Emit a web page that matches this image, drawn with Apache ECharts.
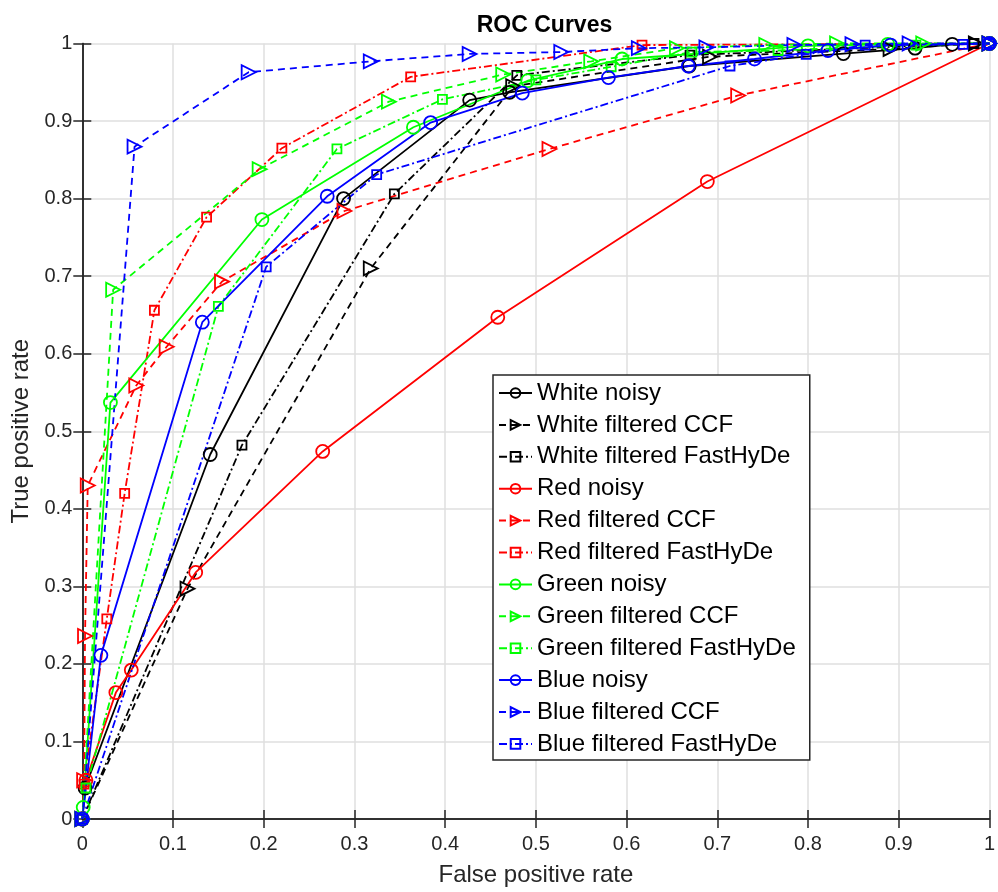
<!DOCTYPE html>
<html>
<head>
<meta charset="utf-8">
<script src="https://cdn.jsdelivr.net/npm/echarts@6/dist/echarts.min.js"></script>
<style>
html,body{margin:0;padding:0;background:#fff;overflow:hidden;}
#chart{width:998px;height:892px;}
</style>
</head>
<body>
<div id="chart"></div>
<script>
// ---- Data (FPR, TPR) ----
const whiteNoisy = [[0,0],[0.003,0.04],[0.141,0.47],[0.288,0.80],[0.427,0.927],[0.471,0.937],[0.669,0.971],[0.839,0.987],[0.918,0.994],[0.959,0.999],[1,1]];
const whiteCCF = [[0,0],[0.116,0.297],[0.318,0.710],[0.475,0.945],[0.692,0.983],[0.891,0.993],[0.985,1],[1,1]];
const whiteFastHyDe = [[0,0],[0.176,0.482],[0.344,0.806],[0.479,0.959],[0.67,0.985],[0.983,1],[1,1]];
const redNoisy = [[0,0],[0.004,0.05],[0.037,0.163],[0.054,0.192],[0.125,0.318],[0.265,0.474],[0.458,0.647],[0.689,0.822],[1,1]];
const redCCF = [[0,0],[0.002,0.05],[0.003,0.236],[0.006,0.43],[0.0595,0.559],[0.093,0.609],[0.154,0.693],[0.289,0.784],[0.515,0.864],[0.723,0.933],[1,1]];
const redFastHyDe = [[0,0],[0.002,0.045],[0.027,0.258],[0.0467,0.42],[0.0795,0.656],[0.137,0.776],[0.22,0.865],[0.362,0.957],[0.617,0.998],[1,1]];
const greenNoisy = [[0,0],[0.001,0.015],[0.031,0.537],[0.198,0.773],[0.365,0.892],[0.491,0.952],[0.595,0.98],[0.80,0.997],[0.888,0.999],[1,1]];
const greenCCF = [[0,0],[0.034,0.6825],[0.1955,0.838],[0.338,0.925],[0.464,0.96],[0.561,0.977],[0.6555,0.994],[0.754,0.998],[0.832,1],[0.927,1],[1,1]];
const greenFastHyDe = [[0,0],[0.004,0.04],[0.15,0.661],[0.2807,0.864],[0.397,0.928],[0.5,0.953],[0.583,0.970],[0.672,0.989],[0.767,0.991],[0.919,0.998],[1,1]];
const blueNoisy = [[0,0],[0.0205,0.211],[0.1323,0.6406],[0.27,0.803],[0.384,0.898],[0.485,0.936],[0.58,0.956],[0.668,0.971],[0.741,0.98],[0.822,0.991],[0.891,0.998],[1,1]];
const blueCCF = [[0,0],[0.0576,0.867],[0.1834,0.963],[0.318,0.977],[0.427,0.9865],[0.528,0.989],[0.6135,0.994],[0.688,0.995],[0.785,0.998],[0.849,0.999],[0.912,1],[1,1]];
const blueFastHyDe = [[0,0],[0.2027,0.712],[0.3245,0.831],[0.714,0.971],[0.798,0.986],[0.863,0.998],[0.971,0.999],[1,1]];

const seriesNames = ['White noisy','White filtered CCF','White filtered FastHyDe','Red noisy','Red filtered CCF','Red filtered FastHyDe','Green noisy','Green filtered CCF','Green filtered FastHyDe','Blue noisy','Blue filtered CCF','Blue filtered FastHyDe'];
const seriesData = [whiteNoisy, whiteCCF, whiteFastHyDe, redNoisy, redCCF, redFastHyDe, greenNoisy, greenCCF, greenFastHyDe, blueNoisy, blueCCF, blueFastHyDe];
const xTickLabels = ['0','0.1','0.2','0.3','0.4','0.5','0.6','0.7','0.8','0.9','1'];
const yTickLabels = ['0','0.1','0.2','0.3','0.4','0.5','0.6','0.7','0.8','0.9','1'];

const colors = ['#000000','#ff0000','#00ff00','#0000ff'];
const FONT = 'Liberation Sans, Arial, Helvetica, sans-serif';
const variants = [
  {symbol:'circle', size:13, rotate:0, type:'solid'},
  {symbol:'triangle', size:14, rotate:-90, type:[7,5]},
  {symbol:'rect', size:9, rotate:0, type:[8,3,2,3]}
];

const series = seriesData.map((d, i) => {
  const c = colors[Math.floor(i/3)];
  const v = variants[i%3];
  return {
    name: seriesNames[i],
    type: 'line',
    data: d,
    clip: false,
    symbol: v.symbol,
    symbolSize: v.size,
    symbolRotate: v.rotate,
    showAllSymbol: true,
    color: c,
    lineStyle: {color: c, width: 1.8, type: v.type},
    itemStyle: {color: 'rgba(255,255,255,0)', borderColor: c, borderWidth: 1.8},
    emphasis: {disabled: true},
    animation: false
  };
});

const chart = echarts.init(document.getElementById('chart'), null, {width: 998, height: 892});
const axisLineStyle = {show: true, lineStyle: {color: '#262626', width: 1.5}};
chart.setOption({
  animation: false,
  backgroundColor: '#ffffff',
  title: {
    text: 'ROC Curves', left: 539.5, top: 9, textAlign: 'center',
    textStyle: {fontFamily: FONT, fontSize: 23, fontWeight: 'bold', color: '#000'}
  },
  grid: {left: 82.3, width: 914.4, top: 43.5, height: 778.5, containLabel: false},
  legend: {
    orient: 'vertical', left: 493, top: 375,
    padding: [6, 14, 4, 5],
    itemWidth: 33, itemHeight: 12, itemGap: 7.9,
    backgroundColor: '#ffffff', borderColor: '#262626', borderWidth: 1.5,
    textStyle: {fontFamily: FONT, fontSize: 24, color: '#000', lineHeight: 24},
    data: seriesNames
  },
  xAxis: [{
    type: 'value', min: 0, max: 1, interval: 0.1,
    name: 'False positive rate', nameLocation: 'middle', nameGap: 44,
    nameTextStyle: {fontFamily: FONT, fontSize: 24, color: '#262626'},
    axisLine: axisLineStyle,
    axisTick: {show: true, inside: true, length: 9, lineStyle: {color: '#262626', width: 1.5}},
    axisLabel: {fontFamily: FONT, fontSize: 20, color: '#262626', margin: 15,
      formatter: v => xTickLabels[Math.round(v*10)]},
    splitLine: {show: true, lineStyle: {color: '#dfdfdf', width: 1.5}}
  }, {
    type: 'value', min: 0, max: 1, interval: 0.1, position: 'top',
    axisLine: axisLineStyle,
    axisTick: {show: true, inside: true, length: 9, lineStyle: {color: '#262626', width: 1.5}},
    axisLabel: {show: false}, splitLine: {show: false}
  }],
  yAxis: [{
    type: 'value', min: 0, max: 1, interval: 0.1,
    name: 'True positive rate', nameLocation: 'middle', nameGap: 47,
    nameTextStyle: {fontFamily: FONT, fontSize: 24, color: '#262626'},
    axisLine: axisLineStyle,
    axisTick: {show: true, inside: true, length: 9, lineStyle: {color: '#262626', width: 1.5}},
    axisLabel: {fontFamily: FONT, fontSize: 20, color: '#262626', margin: 10,
      formatter: v => yTickLabels[Math.round(v*10)]},
    splitLine: {show: true, lineStyle: {color: '#dfdfdf', width: 1.5}}
  }, {
    type: 'value', min: 0, max: 1, interval: 0.1, position: 'right',
    axisLine: axisLineStyle,
    axisTick: {show: true, inside: true, length: 9, lineStyle: {color: '#262626', width: 1.5}},
    axisLabel: {show: false}, splitLine: {show: false}
  }],
  series: series
});
</script>
</body>
</html>
